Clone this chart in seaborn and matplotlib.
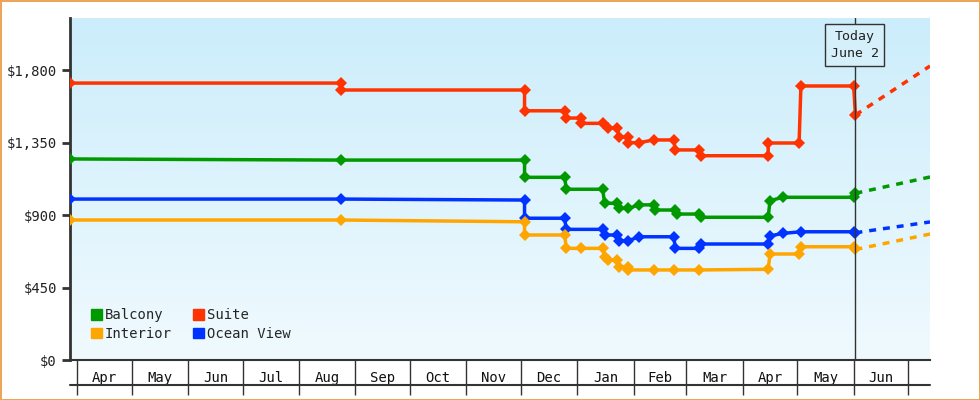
import matplotlib
matplotlib.use('Agg')
import matplotlib.pyplot as plt
import matplotlib.transforms as mtrans
import numpy as np
import pandas as pd
import seaborn as sns

sns.set_style('white')
plt.rcParams['font.family'] = ['DejaVu Sans Mono']

# price history (dates repeated where price steps)
suite_dates = ['2023-03-28', '2023-08-24', '2023-08-24', '2023-12-03', '2023-12-03', '2023-12-25', '2023-12-26',
               '2024-01-03', '2024-01-03', '2024-01-15', '2024-01-18', '2024-01-23', '2024-01-24', '2024-01-29',
               '2024-01-29', '2024-02-04', '2024-02-12', '2024-02-23', '2024-02-24', '2024-03-08', '2024-03-09',
               '2024-04-15', '2024-04-15', '2024-05-02', '2024-05-03', '2024-06-01', '2024-06-02']
suite_price = [1719, 1719, 1676, 1676, 1547, 1547, 1502, 1502, 1469, 1469, 1440, 1440, 1384, 1384,
               1349, 1349, 1366, 1366, 1304, 1304, 1268, 1268, 1347, 1347, 1701, 1701, 1521]

balcony_dates = ['2023-03-28', '2023-08-24', '2023-12-03', '2023-12-03', '2023-12-25', '2023-12-26',
                 '2024-01-15', '2024-01-16', '2024-01-23', '2024-01-24', '2024-01-29', '2024-02-04',
                 '2024-02-12', '2024-02-13', '2024-02-24', '2024-02-25', '2024-03-08', '2024-03-09',
                 '2024-04-15', '2024-04-16', '2024-04-23', '2024-06-01', '2024-06-02']
balcony_price = [1248, 1241, 1241, 1134, 1134, 1060, 1060, 973, 973, 941, 941, 963,
                 963, 931, 931, 906, 906, 886, 886, 989, 1010, 1010, 1035]

ocean_dates = ['2023-03-28', '2023-08-24', '2023-12-03', '2023-12-03', '2023-12-25', '2023-12-26',
               '2024-01-15', '2024-01-16', '2024-01-23', '2024-01-24', '2024-01-29', '2024-02-04',
               '2024-02-23', '2024-02-24', '2024-03-08', '2024-03-09', '2024-04-15', '2024-04-16',
               '2024-04-23', '2024-05-03', '2024-06-01', '2024-06-02']
ocean_price = [999, 999, 993, 880, 880, 811, 811, 776, 776, 740, 740, 765,
               765, 693, 693, 720, 720, 770, 786, 796, 796, 790]

interior_dates = ['2023-03-28', '2023-08-24', '2023-12-03', '2023-12-03', '2023-12-25', '2023-12-26',
                  '2024-01-03', '2024-01-15', '2024-01-16', '2024-01-18', '2024-01-23', '2024-01-24',
                  '2024-01-29', '2024-01-29', '2024-02-12', '2024-02-23', '2024-03-08', '2024-04-15',
                  '2024-04-16', '2024-05-02', '2024-05-03', '2024-06-01', '2024-06-02']
interior_price = [869, 869, 858, 776, 776, 693, 693, 693, 641, 621, 621, 579,
                  579, 559, 559, 559, 559, 563, 658, 658, 703, 703, 686]

# forecast to the right of today
forecast_dates = ['2024-06-02', '2024-07-13']
forecast = {'Suite': [1521, 1825], 'Balcony': [1035, 1136],
            'Ocean View': [790, 857], 'Interior': [686, 782]}

yticks = [0, 450, 900, 1350, 1800]
month_labels = ['Apr', 'May', 'Jun', 'Jul', 'Aug', 'Sep', 'Oct', 'Nov', 'Dec',
                'Jan', 'Feb', 'Mar', 'Apr', 'May', 'Jun']

colors = {'Balcony': '#009900', 'Suite': '#ff3300', 'Interior': '#ffa500', 'Ocean View': '#0033ff'}
series = [('Suite', suite_dates, suite_price), ('Balcony', balcony_dates, balcony_price),
          ('Ocean View', ocean_dates, ocean_price), ('Interior', interior_dates, interior_price)]

fig = plt.figure(figsize=(9.8, 4), dpi=100)
fig.patch.set_edgecolor('#eda55a')
fig.patch.set_linewidth(2)
ax = fig.add_axes([70 / 980, 40 / 400, 860 / 980, 342 / 400])

x0 = pd.Timestamp('2023-03-28')
x1 = pd.Timestamp('2024-07-13')
ax.set_xlim(x0, x1)
ax.set_ylim(0, 2123)

# gradient background
grad = np.linspace(0, 1, 256).reshape(-1, 1)
bg = matplotlib.colors.LinearSegmentedColormap.from_list('bg', ['#ccedfb', '#f0fafe'])
ax.imshow(grad, cmap=bg, aspect='auto', extent=[0, 1, 0, 1], transform=ax.transAxes, zorder=0)

for name, d, p in series:
    df = pd.DataFrame({'date': pd.to_datetime(d), 'price': p})
    sns.lineplot(data=df, x='date', y='price', ax=ax, color=colors[name], estimator=None, sort=False,
                 linewidth=2.5, marker='D', markersize=6, markeredgewidth=0, zorder=3)
    ax.plot(pd.to_datetime(forecast_dates), forecast[name], color=colors[name], linewidth=2.5,
            linestyle=(0, (2, 2)), zorder=3)

# today marker
today = pd.Timestamp('2024-06-01 12:00')
ax.axvline(today, color='#333333', linewidth=1, zorder=4)
ax.text(today, 0.965, 'Today\nJune 2', transform=ax.get_xaxis_transform(), ha='center', va='top',
        fontsize=9.5, color='#222222', linespacing=1.4,
        bbox=dict(boxstyle='square,pad=0.45', facecolor='#d5f0fa', edgecolor='#333333', linewidth=1), zorder=5)

# y axis
ax.set_yticks(yticks)
ax.set_yticklabels(['$' + format(v, ',') for v in yticks], fontsize=10, color='#222222')
ax.tick_params(axis='y', left=True, length=6, width=2, color='#333333')
for s in ['top', 'right']:
    ax.spines[s].set_visible(False)
ax.spines['left'].set_linewidth(2)
ax.spines['left'].set_color('#333333')
ax.spines['bottom'].set_linewidth(1.5)
ax.spines['bottom'].set_color('#333333')
ax.set_xlabel('')
ax.set_ylabel('')

# boxed month labels
starts = pd.date_range('2023-04-01', '2024-07-01', freq='MS')
mids = starts[:-1] + (starts[1:] - starts[:-1]) / 2
ax.set_xticks(starts)
ax.set_xticklabels([])
ax.tick_params(axis='x', which='major', bottom=True, length=25, width=1, color='#333333', direction='out')
ax.set_xticks(mids, minor=True)
ax.set_xticklabels(month_labels, minor=True, fontsize=10, color='#111111')
ax.tick_params(axis='x', which='minor', bottom=True, length=0, pad=8)
trans = mtrans.blended_transform_factory(ax.transAxes, ax.transAxes)
ax.plot([0, 1], [-25 / 342, -25 / 342], transform=trans, color='#333333', linewidth=1.5, clip_on=False)

# legend
handles = [matplotlib.patches.Patch(color=colors[n]) for n in ['Balcony', 'Interior', 'Suite', 'Ocean View']]
ax.legend(handles, ['Balcony', 'Interior', 'Suite', 'Ocean View'], ncol=2, loc='lower left',
          bbox_to_anchor=(0.01, 0.02), frameon=False, fontsize=10, handlelength=0.8, handleheight=0.8,
          handletextpad=0.2, columnspacing=1.5, labelspacing=0.3)

fig.savefig('out.png', dpi=100)
